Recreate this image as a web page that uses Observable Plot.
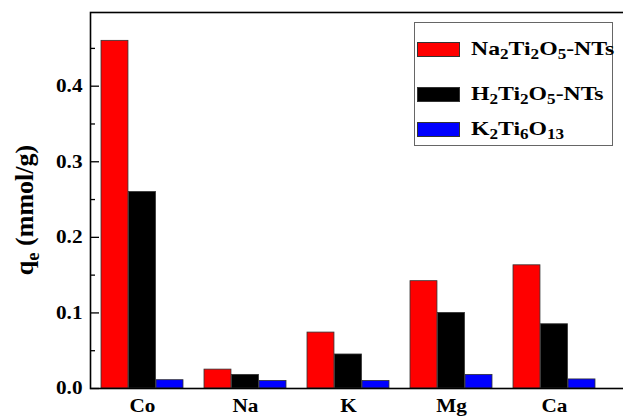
<!DOCTYPE html>
<html>
<head>
<meta charset="utf-8">
<script src="https://cdn.jsdelivr.net/npm/d3@7"></script>
<script src="https://cdn.jsdelivr.net/npm/@observablehq/plot@0.6"></script>
<style>
  html, body { margin: 0; padding: 0; overflow: hidden; background: #fff; }
  #wrap { position: relative; width: 623px; height: 416px; overflow: hidden; font-family: "Liberation Serif", "Times New Roman", serif; font-weight: bold; }
  #wrap svg { max-width: none !important; width: 645px !important; height: 416px !important; display: block; }
  #legend { position: absolute; left: 414px; top: 22px; width: 199px; height: 124px; border: 1px solid #666; box-sizing: border-box; background: #fff; }
  .sw { position: absolute; left: 2px; width: 43px; height: 15px; box-sizing: border-box; border: 1px solid #333; }
  .lt { position: absolute; left: 56px; white-space: nowrap; font-size: 19px; transform: scaleX(1.25); transform-origin: left center; line-height: 24px; }
  sub { font-size: 0.72em; vertical-align: -0.32em; line-height: 0; }
  #ylab { position: absolute; left: 25px; top: 210px; transform: translate(-50%, -50%) rotate(-90deg); white-space: nowrap; font-size: 26px; }
</style>
</head>
<body>
<div id="wrap"></div>
<script>
const elements = ["Co", "Na", "K", "Mg", "Ca"];
const seriesNames = ["Na2Ti2O5-NTs", "H2Ti2O5-NTs", "K2Ti6O13"];
const na2Ti2O5 = [0.460, 0.025, 0.074, 0.142, 0.163];
const h2Ti2O5 = [0.260, 0.018, 0.045, 0.100, 0.085];
const k2Ti6O13 = [0.011, 0.010, 0.010, 0.018, 0.012];
const seriesColors = ["#ff0000", "#000000", "#0000ff"];
const majorTicks = [0, 0.1, 0.2, 0.3, 0.4];
const minorTicks = [0.05, 0.15, 0.25, 0.35, 0.45];

const seriesValues = [na2Ti2O5, h2Ti2O5, k2Ti6O13];
const rows = [];
seriesValues.forEach((vals, j) => vals.forEach((v, i) => rows.push({el: elements[i], series: seriesNames[j], j, v})));

const W = 645, H = 416, mL = 90, mR = 20, mT = 12, mB = 28;
const plotW = W - mL - mR;
const xOpts = {type: "band", domain: elements, range: [mL, W - mR], paddingInner: 0.2, paddingOuter: 0.192, align: 0.27};
let bw;
try { bw = Plot.scale({x: xOpts}).bandwidth; } catch (e) { bw = null; }
if (!bw) { const step = plotW / (5 - 0.2 + 2 * 0.192); bw = step * 0.8; }
const sub = bw / 3;

const barMarks = seriesNames.map((name, j) =>
  Plot.barY(rows.filter(d => d.j === j), {
    x: "el", y: "v", fill: seriesColors[j], stroke: "#333", strokeWidth: 0.8,
    insetLeft: j * sub, insetRight: (2 - j) * sub
  })
);

const chart = Plot.plot({
  width: W, height: H,
  marginLeft: mL, marginRight: mR, marginTop: mT, marginBottom: mB,
  style: "font-family: 'Liberation Serif', serif; font-weight: bold; font-size: 18px; color: #000; background: #fff; overflow: visible; max-width: none;",
  x: {domain: elements, paddingInner: 0.2, paddingOuter: 0.192, align: 0.27, tickSize: 0, tickPadding: 11, label: null},
  y: {domain: [0, 0.4975], ticks: majorTicks, tickFormat: d3.format(".1f"), tickSize: 0, tickPadding: 8, label: null},
  marks: [
    ...barMarks,
    Plot.tickY(majorTicks, {y: d => d, insetRight: plotW - 9, stroke: "#000", strokeWidth: 1.3}),
    Plot.tickY(minorTicks, {y: d => d, insetRight: plotW - 5, stroke: "#000", strokeWidth: 1.3}),
    Plot.frame({stroke: "#000", strokeWidth: 1.6})
  ]
});

const wrap = document.getElementById("wrap");
wrap.appendChild(chart);

// stretch axis labels horizontally like the reference
d3.select(chart).selectAll("text").each(function () {
  const len = this.getComputedTextLength();
  if (len > 0) {
    this.setAttribute("textLength", len * 1.18);
    this.setAttribute("lengthAdjust", "spacingAndGlyphs");
  }
});

const legendLabels = [
  "Na<sub>2</sub>Ti<sub>2</sub>O<sub>5</sub>-NTs",
  "H<sub>2</sub>Ti<sub>2</sub>O<sub>5</sub>-NTs",
  "K<sub>2</sub>Ti<sub>6</sub>O<sub>13</sub>"
];
const rowCenters = [26, 71, 106];
const legend = document.createElement("div");
legend.id = "legend";
legendLabels.forEach((lab, j) => {
  const sw = document.createElement("div");
  sw.className = "sw";
  sw.style.background = seriesColors[j];
  sw.style.top = (rowCenters[j] - 7.5) + "px";
  legend.appendChild(sw);
  const t = document.createElement("div");
  t.className = "lt";
  t.innerHTML = lab;
  t.style.top = (rowCenters[j] - 12) + "px";
  legend.appendChild(t);
});
wrap.appendChild(legend);

const ylab = document.createElement("div");
ylab.id = "ylab";
ylab.innerHTML = "q<sub>e</sub> (mmol/g)";
wrap.appendChild(ylab);
</script>
</body>
</html>
